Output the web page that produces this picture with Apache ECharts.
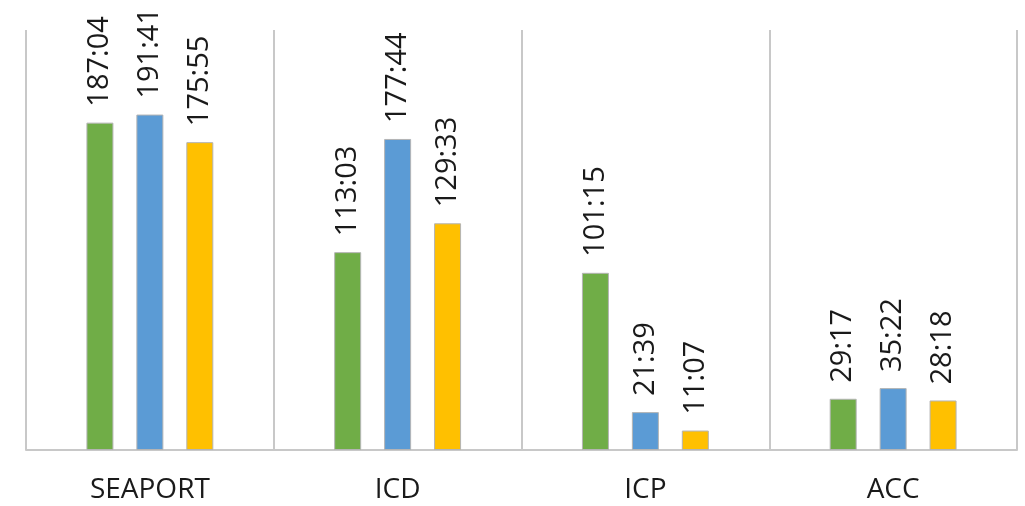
<!DOCTYPE html>
<html>
<head>
<meta charset="utf-8">
<script src="https://cdn.jsdelivr.net/npm/echarts@6/dist/echarts.min.js"></script>
<style>
  html, body { margin: 0; padding: 0; background: #ffffff; }
  #chart { width: 1025px; height: 506px; }
</style>
</head>
<body>
<div id="chart"></div>
<script>
// Categories and values (durations in hours:minutes)
var categories = ['SEAPORT', 'ICD', 'ICP', 'ACC'];
var seriesGreen  = ['187:04', '113:03', '101:15', '29:17'];
var seriesBlue   = ['191:41', '177:44', '21:39', '35:22'];
var seriesYellow = ['175:55', '129:33', '11:07', '28:18'];
var seriesNames  = ['Series 1', 'Series 2', 'Series 3'];
var axisMaxHours = 240;

function toHours(s) {
  var p = s.split(':');
  return Number(p[0]) + Number(p[1]) / 60;
}
function makeSeries(name, arr, color) {
  return {
    name: name,
    type: 'bar',
    barWidth: 27,
    barGap: '85%',
    data: arr.map(function (s) { return { value: toHours(s), label: { formatter: s } }; }),
    itemStyle: { color: color, borderColor: '#b4b4b4', borderWidth: 1 },
    label: {
      show: true,
      position: 'top',
      rotate: 90,
      align: 'left',
      verticalAlign: 'middle',
      distance: 16,
      fontFamily: 'Open Sans',
      fontSize: 29,
      color: '#1a1a1a'
    }
  };
}

var chart = echarts.init(document.getElementById('chart'));
chart.setOption({
  animation: false,
  backgroundColor: '#ffffff',
  grid: { left: 26, right: 8, top: 30, bottom: 56 },
  xAxis: {
    type: 'category',
    data: categories,
    axisLine: { show: true, lineStyle: { color: '#c8c8c8', width: 2 } },
    axisTick: { show: false },
    splitLine: { show: true, lineStyle: { color: '#c8c8c8', width: 2 } },
    axisLabel: {
      fontFamily: 'Open Sans',
      fontSize: 28,
      color: '#1a1a1a',
      margin: 26
    }
  },
  yAxis: {
    type: 'value',
    min: 0,
    max: axisMaxHours,
    show: false,
    splitLine: { show: false }
  },
  series: [
    makeSeries(seriesNames[0], seriesGreen, '#70AD47'),
    makeSeries(seriesNames[1], seriesBlue, '#5B9BD5'),
    makeSeries(seriesNames[2], seriesYellow, '#FFC000')
  ]
});
</script>
</body>
</html>
